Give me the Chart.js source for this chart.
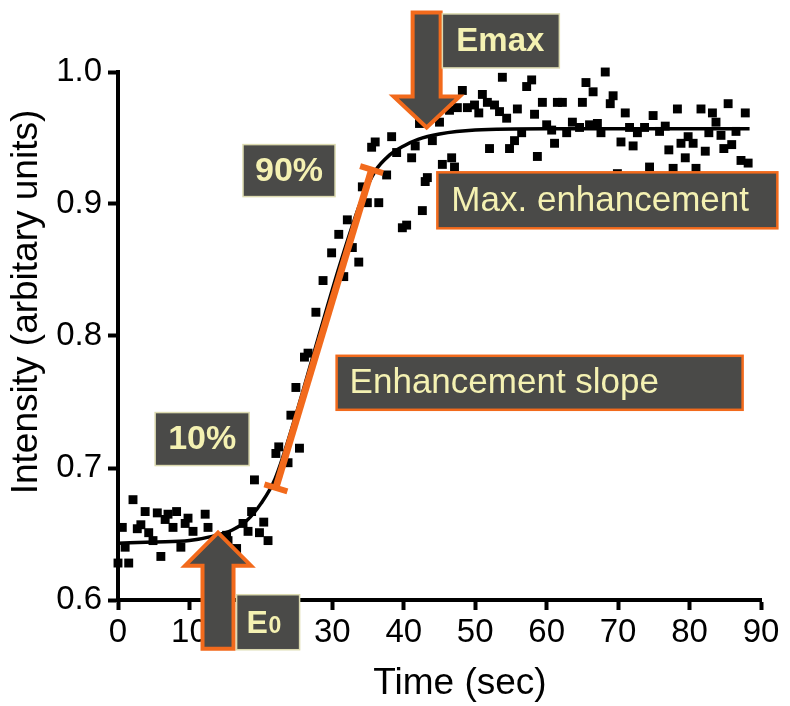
<!DOCTYPE html>
<html>
<head>
<meta charset="utf-8">
<script src="https://cdn.jsdelivr.net/npm/chart.js@4.4.0/dist/chart.umd.min.js"></script>
<style>
  html, body { margin: 0; padding: 0; background: #fff; }
  #wrap { width: 790px; height: 706px; }
</style>
</head>
<body>
<div id="wrap"><canvas id="chart" width="790" height="706"></canvas></div>
<script>
// measured intensity samples (black squares)
const timeSec = [
  0.0, 0.6, 1.0, 1.5, 2.1, 2.7, 3.2, 3.8, 4.3, 4.9, 5.5, 6.0, 6.6, 7.0, 7.7, 8.2, 8.8, 9.4, 9.8, 10.5,
  12.2, 12.6, 15.2, 15.4, 16.6, 17.5, 18.2, 18.7, 19.1, 19.8, 20.4, 21.0, 22.1, 22.5, 23.8, 24.2, 24.9, 25.4,
  26.1, 26.6, 27.7, 28.7, 29.9, 30.9, 31.6, 32.1, 32.8, 33.7, 34.2, 34.9, 35.5, 36.0, 36.5, 37.6, 38.3, 39.0,
  39.8, 40.4, 41.1, 41.6, 42.2, 42.6, 43.0, 43.3, 44.0, 45.0, 45.4, 46.4, 46.7, 47.1, 47.5, 48.2, 48.9, 49.9,
  50.5, 51.0, 51.7, 52.0, 52.7, 53.4, 53.8, 54.4, 54.8, 55.5, 55.9, 56.5, 57.2, 57.9, 58.3, 58.7, 59.4, 60.0,
  60.7, 61.1, 61.5, 62.2, 62.8, 63.6, 64.6, 65.0, 65.5, 66.0, 66.5, 67.1, 67.6, 68.2, 68.9, 69.3, 69.9, 70.4,
  71.0, 71.6, 72.1, 72.7, 73.7, 74.4, 74.9, 75.8, 76.6, 77.1, 77.7, 78.3, 78.8, 79.4, 79.8, 80.5, 80.9, 81.6,
  82.2, 82.7, 83.2, 83.7, 84.4, 84.8, 85.4, 85.9, 86.5, 87.2, 87.8, 88.2
];
const intensity = [
  0.628, 0.655, 0.640, 0.628, 0.676, 0.654, 0.657, 0.667, 0.651, 0.645, 0.666, 0.633, 0.661, 0.665, 0.655, 0.667, 0.640, 0.658, 0.662, 0.652,
  0.665, 0.655, 0.649, 0.645, 0.639, 0.658, 0.652, 0.667, 0.691, 0.651, 0.659, 0.645, 0.711, 0.716, 0.704, 0.740, 0.761, 0.715,
  0.784, 0.787, 0.818, 0.842, 0.863, 0.877, 0.845, 0.888, 0.867, 0.856, 0.913, 0.901, 0.943, 0.947, 0.901, 0.922, 0.951, 0.939,
  0.882, 0.884, 0.935, 0.944, 0.961, 0.895, 0.917, 0.920, 0.948, 0.962, 0.930, 0.971, 0.935, 0.928, 0.973, 0.986, 0.973, 0.975,
  0.969, 0.983, 0.977, 0.942, 0.975, 0.970, 0.996, 0.965, 0.942, 0.948, 0.972, 0.954, 0.989, 0.994, 0.968, 0.936, 0.977, 0.960,
  0.956, 0.946, 0.977, 0.977, 0.954, 0.962, 0.958, 0.977, 0.992, 0.960, 0.985, 0.961, 0.954, 1.000, 0.976, 0.982, 0.923, 0.947,
  0.969, 0.958, 0.944, 0.954, 0.958, 0.928, 0.967, 0.955, 0.959, 0.941, 0.927, 0.972, 0.946, 0.935, 0.951, 0.946, 0.927, 0.972,
  0.940, 0.954, 0.969, 0.962, 0.952, 0.942, 0.976, 0.945, 0.955, 0.933, 0.969, 0.931
];

// fitted curve (black line)
const fitTime = [0, 5, 10, 13, 16, 18, 20, 22, 25, 28, 31, 34, 36, 38, 40, 42, 45, 50, 60, 70, 88.4];
const fitIntensity = [0.643, 0.644, 0.645, 0.648, 0.653, 0.660, 0.673, 0.692, 0.742, 0.798, 0.853, 0.902, 0.925, 0.937, 0.944, 0.949, 0.953, 0.956, 0.957, 0.957, 0.957];

// enhancement slope segment, 10% -> 90%
const slopeTime = [22.1, 35.5];
const slopeIntensity = [0.685, 0.926];

const xTicks = [0, 10, 20, 30, 40, 50, 60, 70, 80, 90];
const yTicks = [0.6, 0.7, 0.8, 0.9, 1.0];

const ORANGE = '#f26a1c';
const BOX = '#4a4a48';
const CREAM = '#f4f1b2';
const CREAM_EDGE = '#dcdab0';
const FONT = '"Liberation Sans", Arial, Helvetica, sans-serif';

function toPoints(xs, ys) {
  return xs.map((x, i) => ({ x: x, y: ys[i] }));
}

function drawArrow(ctx, tipX, tipY, endY, shaftW, headW, headH) {
  const dir = endY < tipY ? -1 : 1; // body runs from the tip toward endY
  const baseY = tipY + dir * headH;
  ctx.beginPath();
  ctx.moveTo(tipX, tipY);
  ctx.lineTo(tipX + headW / 2, baseY);
  ctx.lineTo(tipX + shaftW / 2, baseY);
  ctx.lineTo(tipX + shaftW / 2, endY);
  ctx.lineTo(tipX - shaftW / 2, endY);
  ctx.lineTo(tipX - shaftW / 2, baseY);
  ctx.lineTo(tipX - headW / 2, baseY);
  ctx.closePath();
  ctx.fillStyle = BOX;
  ctx.fill();
  ctx.lineJoin = 'miter';
  ctx.lineWidth = 4;
  ctx.strokeStyle = ORANGE;
  ctx.stroke();
}

function drawBox(ctx, x, y, w, h, edge, edgeW) {
  ctx.fillStyle = BOX;
  ctx.fillRect(x, y, w, h);
  ctx.lineWidth = edgeW;
  ctx.strokeStyle = edge;
  ctx.strokeRect(x, y, w, h);
}

const annotations = {
  id: 'annotations',
  afterDraw(chart) {
    const ctx = chart.ctx;
    const px = v => chart.scales.x.getPixelForValue(v);
    const py = v => chart.scales.y.getPixelForValue(v);
    ctx.save();

    // axis titles
    ctx.fillStyle = '#000';
    ctx.font = '37px ' + FONT;
    ctx.textAlign = 'center';
    ctx.textBaseline = 'middle';
    ctx.fillText('Time (sec)', 460, 684);
    ctx.save();
    ctx.translate(27, 302);
    ctx.rotate(-Math.PI / 2);
    ctx.fillText('Intensity (arbitary units)', 0, 0);
    ctx.restore();

    // end caps of the slope segment
    const x0 = px(slopeTime[0]), y0 = py(slopeIntensity[0]);
    const x1 = px(slopeTime[1]), y1 = py(slopeIntensity[1]);
    const len = Math.hypot(x1 - x0, y1 - y0);
    const nx = -(y1 - y0) / len, ny = (x1 - x0) / len;
    ctx.strokeStyle = ORANGE;
    ctx.lineWidth = 6;
    ctx.lineCap = 'butt';
    [[x0, y0], [x1, y1]].forEach(([cx, cy]) => {
      ctx.beginPath();
      ctx.moveTo(cx - nx * 12, cy - ny * 12);
      ctx.lineTo(cx + nx * 12, cy + ny * 12);
      ctx.stroke();
    });

    // Emax arrow down onto the plateau, E0 arrow up at the baseline
    drawArrow(ctx, px(43.2), py(0.958), py(1.045), 28, 66, 31);
    drawArrow(ctx, px(14.0), py(0.651), py(0.563), 31, 66, 33);

    // label boxes
    drawBox(ctx, px(45.4), py(1.044), 117, 54, CREAM_EDGE, 1.5);
    drawBox(ctx, px(17.5), py(0.945), 92, 52, CREAM_EDGE, 1.5);
    drawBox(ctx, px(5.2), py(0.742), 94, 53, CREAM_EDGE, 1.5);
    drawBox(ctx, px(16.6), py(0.604), 63, 55, CREAM_EDGE, 1.5);
    drawBox(ctx, px(44.7), py(0.924), 340, 56, ORANGE, 2.5);
    drawBox(ctx, px(30.6), py(0.785), 406, 54, ORANGE, 2.5);

    ctx.fillStyle = CREAM;
    ctx.textAlign = 'center';
    ctx.textBaseline = 'middle';
    ctx.font = 'bold 33px ' + FONT;
    ctx.fillText('Emax', px(45.4) + 58, py(1.044) + 28);
    ctx.font = 'bold 34px ' + FONT;
    ctx.fillText('90%', px(17.5) + 46, py(0.945) + 27);
    ctx.fillText('10%', px(5.2) + 47, py(0.742) + 27);

    ctx.textAlign = 'left';
    ctx.textBaseline = 'alphabetic';
    const e0x = px(16.6), e0y = py(0.604);
    ctx.font = 'bold 32px ' + FONT;
    ctx.fillText('E', e0x + 10, e0y + 38);
    ctx.font = 'bold 23px ' + FONT;
    ctx.fillText('0', e0x + 32, e0y + 38);

    ctx.textBaseline = 'middle';
    ctx.font = '35px ' + FONT;
    ctx.fillText('Max. enhancement', px(44.7) + 14, py(0.924) + 29);
    ctx.fillText('Enhancement slope', px(30.6) + 13, py(0.785) + 28);

    ctx.restore();
  }
};

const ctx = document.getElementById('chart').getContext('2d');
new Chart(ctx, {
  type: 'scatter',
  data: {
    datasets: [
      {
        type: 'line',
        label: 'Enhancement slope',
        data: toPoints(slopeTime, slopeIntensity),
        borderColor: ORANGE,
        borderWidth: 7,
        pointRadius: 0,
        fill: false
      },
      {
        type: 'line',
        label: 'Fit',
        data: toPoints(fitTime, fitIntensity),
        borderColor: '#000',
        borderWidth: 3.5,
        pointRadius: 0,
        cubicInterpolationMode: 'monotone',
        fill: false
      },
      {
        label: 'Intensity',
        data: toPoints(timeSec, intensity),
        pointStyle: 'rect',
        pointRadius: 6.3,
        pointBackgroundColor: '#000',
        pointBorderWidth: 0,
        showLine: false,
        clip: false
      }
    ]
  },
  options: {
    responsive: false,
    animation: false,
    devicePixelRatio: 1,
    layout: { padding: { left: 0, right: 29, top: 72, bottom: 0 } },
    plugins: {
      legend: { display: false },
      tooltip: { enabled: false }
    },
    scales: {
      x: {
        type: 'linear',
        min: 0,
        max: 90,
        afterBuildTicks: s => { s.ticks = xTicks.map(v => ({ value: v })); },
        afterFit: s => { s.height = 106; },
        border: { display: true, color: '#000', width: 4 },
        grid: { drawOnChartArea: false, drawTicks: true, tickLength: 10, tickWidth: 4, tickColor: '#000' },
        ticks: { color: '#000', padding: 3, font: { family: FONT, size: 33 }, maxRotation: 0 }
      },
      y: {
        type: 'linear',
        min: 0.6,
        max: 1.0,
        afterBuildTicks: s => { s.ticks = yTicks.map(v => ({ value: v })); },
        afterFit: s => { s.width = 118; },
        border: { display: true, color: '#000', width: 4 },
        grid: { drawOnChartArea: false, drawTicks: true, tickLength: 10, tickWidth: 4, tickColor: '#000' },
        ticks: { color: '#000', padding: 6, font: { family: FONT, size: 33 }, callback: v => v.toFixed(1) }
      }
    }
  },
  plugins: [annotations]
});
</script>
</body>
</html>
